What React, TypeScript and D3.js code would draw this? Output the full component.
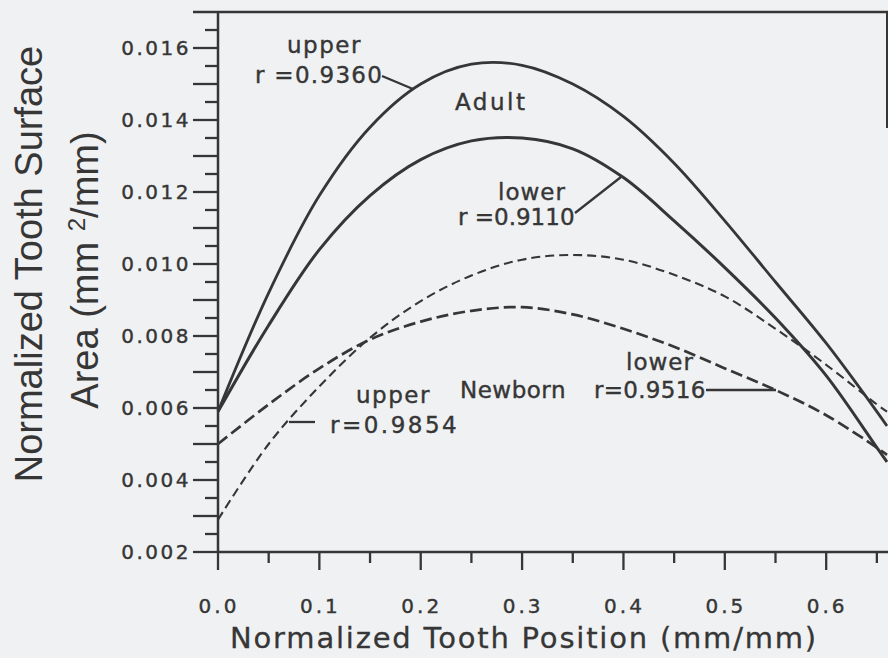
import React from "react";
import * as d3 from "d3";

// ---- data (x = normalized position, y = normalized area) ----
const xGrid = [0, 0.05, 0.1, 0.15, 0.2, 0.25, 0.3, 0.35, 0.4, 0.45, 0.5, 0.55, 0.6, 0.65, 0.66];

const adultUpper = [0.0059, 0.0092, 0.0119, 0.0138, 0.015, 0.01555, 0.01552, 0.015, 0.0141, 0.0128, 0.0112, 0.0095, 0.0078, 0.0059, 0.0055];
const adultLower = [0.0059, 0.0083, 0.0104, 0.0119, 0.0129, 0.01342, 0.0135, 0.0132, 0.0124, 0.0112, 0.0099, 0.0085, 0.0069, 0.0049, 0.0045];
const newbornUpper = [0.0029, 0.005, 0.0066, 0.00795, 0.00897, 0.00968, 0.01012, 0.01025, 0.01012, 0.0097, 0.0091, 0.0082, 0.0072, 0.0061, 0.0059];
const newbornLower = [0.005, 0.0061, 0.0071, 0.0079, 0.0084, 0.0087, 0.0088, 0.0086, 0.0082, 0.0077, 0.0071, 0.0065, 0.0058, 0.0049, 0.0047];

const xTickLabels = ["0.0", "0.1", "0.2", "0.3", "0.4", "0.5", "0.6"];
const yTickLabels = ["0.002", "0.004", "0.006", "0.008", "0.010", "0.012", "0.014", "0.016"];

const INK = "#363636";
const BG = "#f0f1f3";
const GOTHIC = "'DejaVu Sans', sans-serif";

export default function App() {
  const W = 888, H = 658;
  const x = d3.scaleLinear().domain([0, 0.66]).range([218, 887]);
  const y = d3.scaleLinear().domain([0.002, 0.017]).range([552, 12]);

  const line = d3
    .line<[number, number]>()
    .x((d) => x(d[0]))
    .y((d) => y(d[1]))
    .curve(d3.curveCatmullRom.alpha(0.5));

  const zip = (ys: number[]) => xGrid.map((v, i) => [v, ys[i]] as [number, number]);

  const yMinor = d3.range(0, 30).map((i) => 0.002 + i * 0.0005);
  const xMinor = d3.range(0, 14).map((i) => i * 0.05);

  const ann = { fontFamily: GOTHIC, fontSize: 23, fill: INK, stroke: INK, strokeWidth: 0.4 } as const;
  const tick = { fontFamily: GOTHIC, fontSize: 20, fill: INK, stroke: INK, strokeWidth: 0.4 } as const;

  return (
    <svg width={W} height={H} style={{ position: "absolute", left: 0, top: 0 }}>
      <rect x={0} y={0} width={W} height={H} fill={BG} />

      {/* frame */}
      <line x1={193} x2={888} y1={y(0.017)} y2={y(0.017)} stroke={INK} strokeWidth={2.5} />
      <line x1={887} x2={887} y1={y(0.017)} y2={128} stroke={INK} strokeWidth={2} />
      <line x1={x(0)} x2={x(0)} y1={y(0.017)} y2={y(0.002)} stroke={INK} strokeWidth={2.5} />
      <line x1={x(0)} x2={888} y1={y(0.002)} y2={y(0.002)} stroke={INK} strokeWidth={2.5} />

      {/* y ticks */}
      {yMinor.map((v, i) => (
        <line key={"yt" + i} x1={i % 2 === 0 ? 193 : 205} x2={x(0)} y1={y(v)} y2={y(v)} stroke={INK} strokeWidth={2.3} />
      ))}
      {yTickLabels.map((t) => (
        <text key={t} x={191} y={y(+t)} dy="0.36em" textAnchor="end" {...tick} letterSpacing={2.5}>
          {t}
        </text>
      ))}

      {/* x ticks */}
      {xMinor.map((v, i) => (
        <line key={"xt" + i} x1={x(v)} x2={x(v)} y1={y(0.002)} y2={i % 2 === 0 ? 570 : 563} stroke={INK} strokeWidth={2.3} />
      ))}
      {xTickLabels.map((t) => (
        <text key={t} x={x(+t) + 1} y={613} textAnchor="middle" {...tick} letterSpacing={3}>
          {t}
        </text>
      ))}

      {/* axis titles */}
      <text x={524} y={648} textAnchor="middle" fontFamily={GOTHIC} fontSize={29} letterSpacing={1.8} fill={INK} stroke={INK} strokeWidth={0.3}>
        Normalized Tooth Position (mm/mm)
      </text>
      <text transform="translate(42,264) rotate(-90)" textAnchor="middle" fontFamily="'Liberation Sans', Arial, sans-serif" fontSize={38} fill={INK}>
        Normalized Tooth Surface
      </text>
      <text transform="translate(98,270) rotate(-90)" textAnchor="middle" fontFamily="'Liberation Sans', Arial, sans-serif" fontSize={38} fill={INK}>
        Area (mm <tspan fontSize={24} dy={-13}>2</tspan>
        <tspan dy={13}>/mm)</tspan>
      </text>

      {/* curves */}
      <path d={line(zip(adultUpper)) || ""} fill="none" stroke={INK} strokeWidth={2.8} />
      <path d={line(zip(adultLower)) || ""} fill="none" stroke={INK} strokeWidth={3} />
      <path d={line(zip(newbornUpper)) || ""} fill="none" stroke={INK} strokeWidth={2.1} strokeDasharray="9 5" />
      <path d={line(zip(newbornLower)) || ""} fill="none" stroke={INK} strokeWidth={2.7} strokeDasharray="12 5" />

      {/* annotations: adult */}
      <text x={287} y={53} {...ann} letterSpacing={1.5}>upper</text>
      <text x={255} y={83} {...ann} letterSpacing={1.3}>r =0.9360</text>
      <line x1={382} y1={76} x2={413} y2={89} stroke={INK} strokeWidth={2.3} />
      <text x={455} y={110} {...ann} letterSpacing={2.5}>Adult</text>
      <text x={498} y={200} {...ann} letterSpacing={1}>lower</text>
      <text x={458} y={225} {...ann} letterSpacing={0}>r =0.9110</text>
      <line x1={575} y1={213} x2={621} y2={177} stroke={INK} strokeWidth={2.3} />

      {/* annotations: newborn */}
      <text x={356} y={403} {...ann} letterSpacing={1.5}>upper</text>
      <text x={330} y={433} {...ann} letterSpacing={2.5}>r=0.9854</text>
      <line x1={289} y1={422} x2={315} y2={422} stroke={INK} strokeWidth={2.3} />
      <text x={460} y={398} {...ann} letterSpacing={0.5}>Newborn</text>
      <text x={626} y={370} {...ann} letterSpacing={1}>lower</text>
      <text x={594} y={398} {...ann} letterSpacing={0.3}>r=0.9516</text>
      <line x1={706} y1={390} x2={776} y2={390} stroke={INK} strokeWidth={2.5} />
    </svg>
  );
}
